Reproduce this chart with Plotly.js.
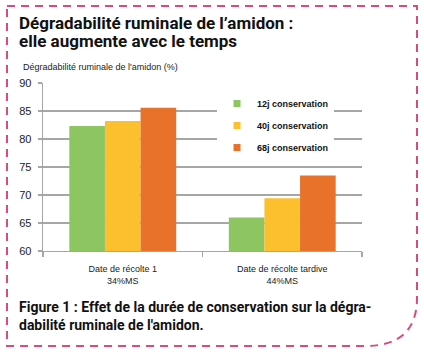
<!DOCTYPE html>
<html><head><meta charset="utf-8">
<script src="https://cdn.plot.ly/plotly-3.0.1.min.js"></script>
<style>html,body{margin:0;padding:0;background:#fff;} #chart{width:424px;height:352px;}</style>
</head><body><div id="chart"></div>
<script>
const categories = ["Date de récolte 1<br>34%MS", "Date de récolte tardive<br>44%MS"];
const seriesNames = ["12j conservation", "40j conservation", "68j conservation"];
const values12j = [82.3, 66.0];
const values40j = [83.2, 69.4];
const values68j = [85.6, 73.5];
const yTickVals = [60, 65, 70, 75, 80, 85, 90];
const titleLines = ["Dégradabilité ruminale de l’amidon :", "elle augmente avec le temps"];
const yAxisLabel = "Dégradabilité ruminale de l'amidon (%)";
const captionLines = ["Figure 1 : Effet de la durée de conservation sur la dégra-", "dabilité ruminale de l'amidon."];

const colors = ["#8dc661", "#fcbf2d", "#e8722a"];
const seriesValues = [values12j, values40j, values68j];

const W = 424, H = 352;
const L = 43, R = 62, T = 83, B = 101;
const PW = W - L - R, PH = H - T - B;
const px = x => (x - L) / PW;
const py = y => (T + PH - y) / PH;
const P = (x, y) => px(x).toFixed(4) + ',' + py(y).toFixed(4);

const narrow = '"Liberation Sans", Arial, sans-serif';
const boldFont = 'Roboto, "Noto Sans", sans-serif';

const traces = [];
seriesNames.forEach((n, i) => {
  traces.push({
    type: 'bar', x: categories, y: seriesValues[i], name: n,
    marker: {color: colors[i]}, showlegend: false, hoverinfo: 'y'
  });
});
seriesNames.forEach((n, i) => {
  traces.push({
    type: 'scatter', mode: 'markers', x: [categories[0]], y: [null], name: n,
    marker: {color: colors[i], symbol: 'square', size: 7}, legendgroup: 'g' + i, showlegend: true
  });
});

const borderPath = 'M' + P(7, 6) + ' L' + P(417, 6) + ' L' + P(417, 298) +
  ' Q' + P(417, 346) + ' ' + P(365, 346) + ' L' + P(7, 346) + ' Z';

const layout = {
  width: W, height: H,
  margin: {l: L, r: R, t: T, b: B, pad: 0},
  paper_bgcolor: '#fff', plot_bgcolor: '#fff',
  barmode: 'group', bargap: 0.33, bargroupgap: 0,
  showlegend: true,
  legend: {
    x: px(217), y: py(89), xanchor: 'left', yanchor: 'top',
    bgcolor: '#fff', borderwidth: 0, itemsizing: 'trace',
    traceorder: 'grouped', tracegroupgap: 3,
    font: {family: narrow, size: 9, color: '#111', weight: 'bold'}
  },
  xaxis: {
    type: 'category', showline: true, linecolor: '#a6a6a6', linewidth: 1.3,
    ticks: 'outside', tickson: 'boundaries', ticklen: 5, tickcolor: '#a6a6a6', tickwidth: 1.3,
    showgrid: false, zeroline: false, ticklabelstandoff: 9,
    tickfont: {family: narrow, size: 9, color: '#222'}
  },
  yaxis: {
    range: [60, 90], tickvals: yTickVals, ticktext: yTickVals.map(String),
    showline: true, linecolor: '#a6a6a6', linewidth: 1.3,
    ticks: 'outside', ticklen: 4, tickcolor: '#a6a6a6', tickwidth: 1.3,
    showgrid: true, gridcolor: '#a6a6a6', gridwidth: 1.3, zeroline: false,
    ticklabelstandoff: 4,
    tickfont: {family: narrow, size: 11, color: '#222'}
  },
  shapes: [{
    type: 'path', xref: 'paper', yref: 'paper', path: borderPath,
    line: {color: '#d84b7f', width: 2, dash: '8px,6px'}, fillcolor: 'rgba(0,0,0,0)'
  }],
  annotations: [
    {xref: 'paper', yref: 'paper', x: px(17), y: py(23), xanchor: 'left', yanchor: 'middle', showarrow: false,
     text: '<b>' + titleLines[0] + '</b>', font: {family: boldFont, size: 17, color: '#111', weight: 900}},
    {xref: 'paper', yref: 'paper', x: px(17), y: py(41), xanchor: 'left', yanchor: 'middle', showarrow: false,
     text: '<b>' + titleLines[1] + '</b>', font: {family: boldFont, size: 17, color: '#111', weight: 900}},
    {xref: 'paper', yref: 'paper', x: px(21), y: py(67), xanchor: 'left', yanchor: 'middle', showarrow: false,
     text: yAxisLabel, font: {family: narrow, size: 9, color: '#222'}},
    {xref: 'paper', yref: 'paper', x: px(17), y: py(307), xanchor: 'left', yanchor: 'middle', showarrow: false,
     text: '<b>' + captionLines[0] + '</b>', font: {family: boldFont, size: 14, color: '#111'}},
    {xref: 'paper', yref: 'paper', x: px(17), y: py(325), xanchor: 'left', yanchor: 'middle', showarrow: false,
     text: '<b>' + captionLines[1] + '</b>', font: {family: boldFont, size: 14, color: '#111'}}
  ]
};

Plotly.newPlot('chart', traces, layout, {displayModeBar: false, staticPlot: true});
</script>
</body></html>
